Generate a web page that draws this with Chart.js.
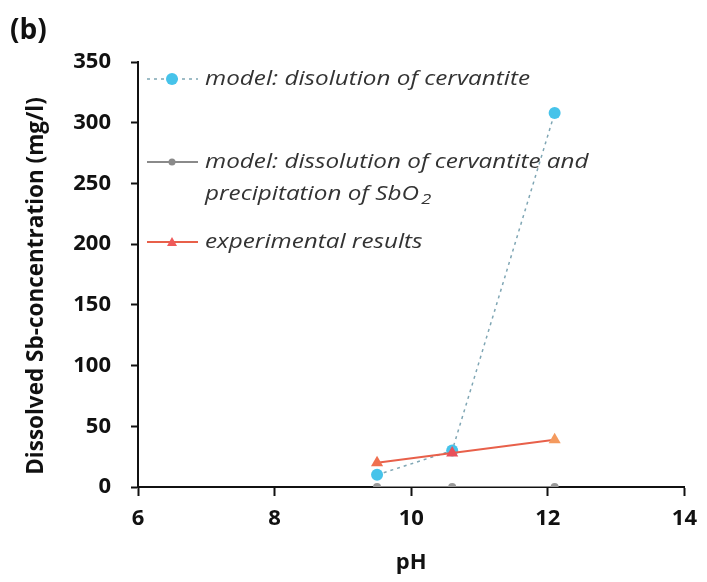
<!DOCTYPE html>
<html>
<head>
<meta charset="utf-8">
<script src="https://cdn.jsdelivr.net/npm/chart.js@4.4.1/dist/chart.umd.min.js"></script>
<style>
  html, body { margin: 0; padding: 0; background: #fff; }
  #wrap { width: 707px; height: 582px; position: relative; }
</style>
</head>
<body>
<div id="wrap"><canvas id="grafico" width="707" height="582"></canvas></div>
<script>
const phValues = [9.5, 10.6, 12.1];
const modeloCervantita = [10, 30, 308];
const modeloPrecipitacion = [0, 0, 0];
const experimental = [20, 28, 39];
const etiquetas = [
  ["model: disolution of cervantite"],
  ["model: dissolution of cervantite and", "precipitation of SbO"],
  ["experimental results"]
];
const tituloY = "Dissolved Sb-concentration (mg/l)";

const toXY = ys => phValues.map((x, i) => ({ x: x, y: ys[i] }));

// leyenda dibujada a mano dentro del area del grafico
const leyendaPlugin = {
  id: "leyendaManual",
  afterDraw(chart) {
    const ctx = chart.ctx;
    const filas = [79, 162, 242];
    const fuente = "italic 20px 'Open Sans'";
    ctx.save();
    ctx.font = fuente;
    const sx = 325 / ctx.measureText(etiquetas[0][0]).width;
    chart.data.datasets.forEach((ds) => {
      const y = filas[ds.legendRow];
      ctx.strokeStyle = ds.borderColor;
      ctx.lineWidth = ds.borderWidth;
      ctx.setLineDash(ds.borderDash || []);
      ctx.beginPath(); ctx.moveTo(147, y); ctx.lineTo(198, y); ctx.stroke();
      ctx.setLineDash([]);
      ctx.fillStyle = ds.legendColor;
      ctx.beginPath();
      if (ds.pointStyle === "triangle") {
        ctx.moveTo(172, y - 5); ctx.lineTo(177, y + 4); ctx.lineTo(167, y + 4); ctx.closePath();
      } else {
        ctx.arc(172, y, ds.legendRow === 0 ? 6 : 3.5, 0, Math.PI * 2);
      }
      ctx.fill();
      ctx.fillStyle = "#333";
      ctx.textBaseline = "middle";
      etiquetas[ds.legendRow].forEach((t, j) => {
        ctx.save();
        ctx.translate(205, y + j * 32);
        ctx.scale(sx, 1);
        ctx.font = fuente;
        ctx.fillText(t, 0, 0);
        if (ds.legendRow === 1 && j === 1) {
          const w = ctx.measureText(t).width;
          ctx.font = "italic 15px 'Open Sans'";
          ctx.fillText("2", w + 2, 6);
        }
        ctx.restore();
      });
    });
    ctx.fillStyle = "#111";
    ctx.font = "bold 28px 'Open Sans'";
    ctx.textBaseline = "middle";
    ctx.fillText("(b)", 10, 31);

    // titulo del eje y
    ctx.save();
    ctx.translate(37, 286);
    ctx.rotate(-Math.PI / 2);
    ctx.font = "bold 22.5px 'Open Sans'";
    ctx.textAlign = "center";
    ctx.fillText(tituloY, 0, 0);
    ctx.restore();
    ctx.restore();
  }
};

const fuenteEje = { family: "'Open Sans'", size: 22, weight: "bold" };

new Chart(document.getElementById("grafico"), {
  type: "line",
  data: {
    datasets: [
      {
        label: "model: dissolution of cervantite and precipitation of SbO2",
        data: toXY(modeloPrecipitacion),
        borderColor: "#8a8a8a", borderWidth: 2, legendColor: "#8a8a8a",
        pointBackgroundColor: "#999", pointBorderWidth: 0,
        pointRadius: 4, pointStyle: "circle", legendRow: 1, order: 3
      },
      {
        label: "model: disolution of cervantite",
        data: toXY(modeloCervantita),
        borderColor: "#7fa6b4", borderWidth: 1.5, borderDash: [3, 4], legendColor: "#46c3ea",
        pointBackgroundColor: "#46c3ea", pointBorderWidth: 0,
        pointRadius: 6, pointStyle: "circle", legendRow: 0, order: 2
      },
      {
        label: "experimental results",
        data: toXY(experimental),
        borderColor: "#e8604a", borderWidth: 2, legendColor: "#ef5a5a",
        pointBackgroundColor: ["#ef7050", "#e8505a", "#f49a5e"], pointBorderWidth: 0,
        pointRadius: 7, pointStyle: "triangle", legendRow: 2, order: 1
      }
    ]
  },
  options: {
    responsive: false,
    animation: false,
    layout: { padding: { top: 62, right: 21, left: 0, bottom: 0 } },
    plugins: { legend: { display: false }, tooltip: { enabled: false } },
    scales: {
      x: {
        type: "linear", min: 6, max: 14,
        afterFit(scale) { scale.height = 95; },
        border: { color: "#111", width: 2 },
        grid: { drawOnChartArea: false, tickLength: 9, tickColor: "#111", tickWidth: 2 },
        ticks: { stepSize: 2, padding: 10, color: "#111", font: fuenteEje },
        title: { display: true, text: "pH", color: "#111", padding: { top: 0, bottom: 6 }, font: fuenteEje }
      },
      y: {
        min: 0, max: 350,
        afterFit(scale) { scale.width = 138; },
        border: { color: "#111", width: 2 },
        grid: { drawOnChartArea: false, tickLength: 7, tickColor: "#111", tickWidth: 2 },
        ticks: { stepSize: 50, padding: 20, color: "#111", font: fuenteEje }
      }
    }
  },
  plugins: [leyendaPlugin]
});
</script>
</body>
</html>
